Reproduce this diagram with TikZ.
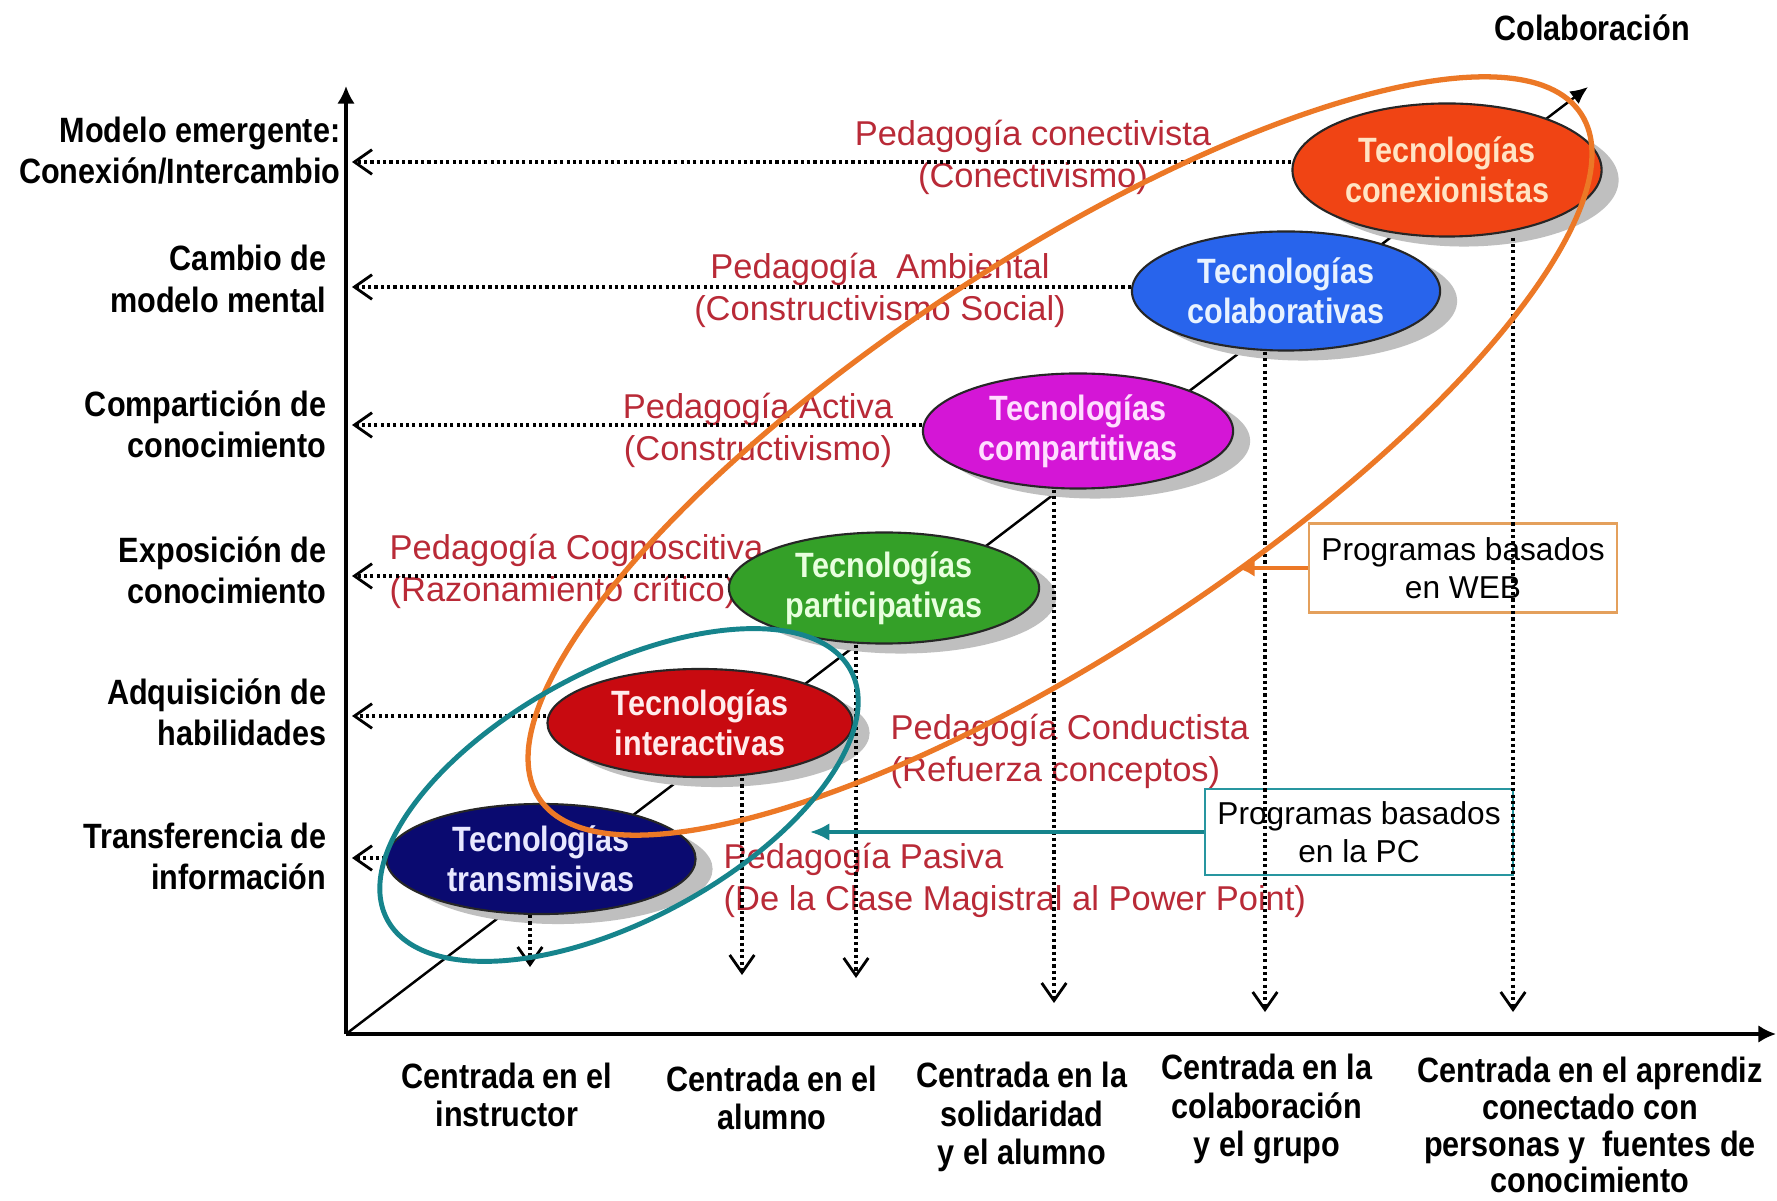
\documentclass[tikz,border=0pt]{standalone}
\usepackage{fontspec}
\setmainfont{Liberation Sans}
\newfontfamily\nbf[FakeStretch=0.87]{Liberation Sans}
\usetikzlibrary{shapes.geometric,arrows.meta,shadows}
\definecolor{cconex}{RGB}{240,68,20}
\definecolor{tconex}{RGB}{255,228,196}
\definecolor{ccolab}{RGB}{40,100,236}
\definecolor{tcolab}{RGB}{232,242,255}
\definecolor{ccomp}{RGB}{212,22,214}
\definecolor{tcomp}{RGB}{255,222,255}
\definecolor{cpart}{RGB}{52,160,40}
\definecolor{tpart}{RGB}{232,255,222}
\definecolor{cinter}{RGB}{200,10,16}
\definecolor{tinter}{RGB}{255,236,236}
\definecolor{ctrans}{RGB}{10,10,112}
\definecolor{ttrans}{RGB}{232,232,255}
\definecolor{pedred}{RGB}{185,42,55}
\definecolor{orng}{RGB}{236,120,38}
\definecolor{orngbox}{RGB}{228,160,92}
\definecolor{tealc}{RGB}{22,132,140}
\definecolor{tealbox}{RGB}{40,150,160}
\begin{document}
\begin{tikzpicture}[x=0.01cm,y=-0.01cm,
  tec/.style={ellipse, draw=black!85, line width=0.6pt, inner sep=0pt, align=center,
     font=\nbf\bfseries\fontsize{10}{11.4}\selectfont,
     drop shadow={shadow xshift=0.17cm, shadow yshift=-0.10cm, fill=black!25, opacity=1}},
  ylab/.style={anchor=east, align=right, inner sep=0pt, font=\nbf\bfseries\fontsize{10}{11.7}\selectfont},
  xlab/.style={align=center, inner sep=0pt, font=\nbf\bfseries\fontsize{10}{11}\selectfont},
  ped/.style={inner sep=0pt, text=pedred, font=\fontsize{9.8}{12}\selectfont},
  dotarrow/.style={line width=0.9pt, dash pattern=on 0.9pt off 0.9pt,
     -{Straight Barb[length=5pt,width=7pt,line width=0.8pt]}},
  axisline/.style={line width=0.9pt, -{Latex[length=5pt,width=5pt]}},
  prog/.style={draw, line width=0.6pt, minimum width=3.08cm, inner sep=0pt, align=center,
     font=\fontsize{9}{10.8}\selectfont},
]
\fill[white] (0,0) rectangle (1777,1201);
\useasboundingbox (0,0) rectangle (1777,1201);

% axes
\coordinate (O) at (346,1034);
\coordinate (Ytop) at (346,86);
\coordinate (Xend) at (1776,1034);
\coordinate (D) at (1588,87);
\draw[line width=0.7pt, -{Latex[length=5pt,width=4.5pt]}] (O) -- (D);

% red pedagogy labels
\node[ped, align=center] (p1) at (1033,157) {Pedagogía conectivista\\(Conectivismo)};
\node[ped, align=center] (p2) at (880,290) {Pedagogía\ \ Ambiental\\(Constructivismo Social)};
\node[ped, align=center] (p3) at (758,430) {Pedagogía Activa\\(Constructivismo)};
\node[ped, align=left, anchor=west] (p4) at (389,571) {Pedagogía Cognoscitiva\\(Razonamiento crítico)};
\node[ped, align=left, anchor=west] (p5) at (890,751) {Pedagogía Conductista\\(Refuerza conceptos)};
\node[ped, align=left, anchor=west] (p6) at (723,880) {Pedagogía Pasiva\\(De la Clase Magistral al Power Point)};

% technology ellipses
\node[tec, fill=cconex, text=tconex, minimum width=3.09cm, minimum height=1.33cm] (c1) at (1447,170) {Tecnologías\\conexionistas};
\node[tec, fill=ccolab, text=tcolab, minimum width=3.08cm, minimum height=1.19cm] (c2) at (1286,291) {Tecnologías\\colaborativas};
\node[tec, fill=ccomp, text=tcomp, minimum width=3.10cm, minimum height=1.15cm] (c3) at (1078,431) {Tecnologías\\compartitivas};
\node[tec, fill=cpart, text=tpart, minimum width=3.10cm, minimum height=1.11cm] (c4) at (884,588) {Tecnologías\\participativas};
\node[tec, fill=cinter, text=tinter, minimum width=3.05cm, minimum height=1.08cm] (c5) at (700,723) {Tecnologías\\interactivas};
\node[tec, fill=ctrans, text=ttrans, minimum width=3.09cm, minimum height=1.10cm] (c6) at (541,859) {Tecnologías\\transmisivas};

% y-axis labels
\node[ylab] (l1) at (341,151) {Modelo emergente:\\Conexión/Intercambio};
\node[ylab] (l2) at (327,279) {Cambio de\\modelo mental};
\node[ylab] (l3) at (327,424) {Compartición de\\conocimiento};
\node[ylab] (l4) at (327,570) {Exposición de\\conocimiento};
\node[ylab] (l5) at (327,712) {Adquisición de\\habilidades};
\node[ylab] (l6) at (327,856) {Transferencia de\\información};

% x-axis labels
\node[xlab] (b1) at (507,1095) {Centrada en el\\instructor};
\node[xlab] (b2) at (772,1098) {Centrada en el\\alumno};
\node[xlab] (b3) at (1022,1117) {Centrada en la\\solidaridad\\y el alumno};
\node[xlab] (b4) at (1267,1109) {Centrada en la\\colaboración\\y el grupo};
\node[xlab, font=\nbf\bfseries\fontsize{10}{10.5}\selectfont] (b5) at (1590,1125) {Centrada en el aprendiz\\conectado con\\personas y\ \ fuentes de\\conocimiento};
\node[xlab] (colab) at (1592,28) {Colaboración};

% programas boxes
\node[prog, draw=orngbox, minimum height=0.89cm] (W) at (1463,568) {Programas basados\\en WEB};
\node[prog, draw=tealbox, minimum height=0.86cm] (PC) at (1359,832) {Programas basados\\en la PC};

% horizontal dotted arrows
\coordinate (a1) at (352,162);
\coordinate (a2) at (352,287);
\coordinate (a3) at (352,425);
\coordinate (a4) at (352,576);
\coordinate (a5) at (352,716);
\coordinate (a6) at (352,858);
\draw[dotarrow] (c1.west |- a1) -- (a1);
\draw[dotarrow] (c2.west |- a2) -- (a2);
\draw[dotarrow] (c3.west |- a3) -- (a3);
\draw[dotarrow] (c4.west |- a4) -- (a4);
\draw[dotarrow] (c5.west |- a5) -- (a5);
\draw[dotarrow] (c6.west |- a6) -- (a6);

% vertical dotted arrows
\coordinate (v1) at (530,967);
\coordinate (v2) at (742,975);
\coordinate (v3) at (856,978);
\coordinate (v4) at (1054,1003);
\coordinate (v5) at (1265,1012);
\coordinate (v6) at (1513,1012);
\draw[dotarrow] (c6.south -| v1) -- (v1);
\draw[dotarrow] (c5.south -| v2) -- (v2);
\draw[dotarrow] (c4.south -| v3) -- (v3);
\draw[dotarrow] (c3.south -| v4) -- (v4);
\draw[dotarrow] (c2.south -| v5) -- (v5);
\draw[dotarrow] (c1.south -| v6) -- (v6);

% axes on top
\draw[axisline] (O) -- (Ytop);
\draw[axisline] (O) -- (Xend);

% grouping ellipses
\draw[orng, line width=1.5pt, rotate around={33.3:(1060,456)}] (1060,456) ellipse [x radius=6.23cm, y radius=1.95cm];
\draw[tealc, line width=1.4pt, rotate around={28.3:(619,795)}] (619,795) ellipse [x radius=2.63cm, y radius=1.25cm];

% connectors from boxes
\coordinate (wtip) at (1237,568);
\coordinate (pctip) at (810,832);
\draw[orng, line width=1pt, -{Latex[length=5pt,width=5pt]}] (W.west) -- (wtip);
\draw[tealc, line width=1pt, -{Latex[length=5.5pt,width=5pt]}] (PC.west) -- (pctip);
\end{tikzpicture}
\end{document}
